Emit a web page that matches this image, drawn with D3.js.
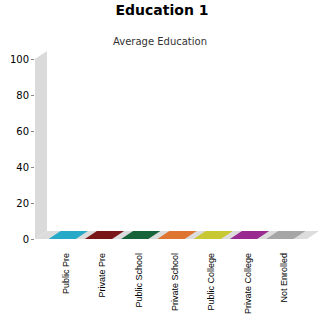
<!DOCTYPE html>
<html>
<head>
<meta charset="utf-8">
<script src="https://cdn.jsdelivr.net/npm/d3@7"></script>
<style>
  body { margin: 0; background: #fff; }
  svg { display: block; }
</style>
</head>
<body>
<svg class="chart"></svg>
<script>
var categories = ["Public Pre", "Private Pre", "Public School", "Private School", "Public College", "Private College", "Not Enrolled"];
var values = [0, 0, 0, 0, 0, 0, 0];
var colors = ["#27aac8", "#7b1618", "#17633a", "#de7530", "#c8c832", "#982a90", "#a6a6a6"];
var yTicks = [0, 20, 40, 60, 80, 100];

var width = 325, height = 325,
    dx = 12, dy = 8;   // 3d depth offset

var svg = d3.select(".chart")
    .attr("width", width)
    .attr("height", height);

var x = d3.scaleBand()
    .domain(categories)
    .range([35, 307])
    .paddingInner(0.25)
    .paddingOuter(0.375);

var y = d3.scaleLinear()
    .domain([0, 100])
    .range([239, 59]);

// titles
svg.append("text")
    .attr("x", 162).attr("y", 15)
    .attr("text-anchor", "middle")
    .style("font", "bold 14px 'DejaVu Sans'")
    .text("Education 1");

svg.append("text")
    .attr("x", 160).attr("y", 45)
    .attr("text-anchor", "middle")
    .style("font", "10px 'DejaVu Sans'")
    .attr("fill", "#333")
    .text("Average Education");

// left wall
var x0 = x.range()[0], x1 = x.range()[1];
svg.append("path")
    .attr("d", "M" + x0 + "," + y(0) + "L" + x0 + "," + y(100) + "L" + (x0 + dx) + "," + (y(100) - dy) + "L" + (x0 + dx) + "," + (y(0) - dy) + "Z")
    .attr("fill", "#dadada");

// floor
svg.append("path")
    .attr("d", "M" + x0 + "," + y(0) + "L" + x1 + "," + y(0) + "L" + (x1 + dx) + "," + (y(0) - dy) + "L" + (x0 + dx) + "," + (y(0) - dy) + "Z")
    .attr("fill", "#dcdcdc");

// bars (top face + front face)
var bars = svg.selectAll(".bar")
    .data(values)
  .enter().append("g")
    .attr("class", "bar");

bars.append("path")
    .attr("d", function(d, i) {
      var bx = x(categories[i]), bw = x.bandwidth(), by = y(d);
      return "M" + bx + "," + by + "L" + (bx + bw) + "," + by + "L" + (bx + bw + dx) + "," + (by - dy) + "L" + (bx + dx) + "," + (by - dy) + "Z";
    })
    .attr("fill", function(d, i) { return colors[i]; });

bars.append("rect")
    .attr("x", function(d, i) { return x(categories[i]); })
    .attr("y", function(d) { return y(d); })
    .attr("width", x.bandwidth())
    .attr("height", function(d) { return y(0) - y(d); })
    .attr("fill", function(d, i) { return colors[i]; });

// y axis
var yAxis = svg.append("g")
    .attr("transform", "translate(" + (x0 - 1) + ",0)")
    .call(d3.axisLeft(y).tickValues(yTicks).tickSize(3).tickPadding(2));
yAxis.select(".domain").remove();
yAxis.selectAll(".tick line").attr("stroke", "#888");
yAxis.selectAll("text")
    .style("font", "10px 'DejaVu Sans'")
    .attr("fill", "#000");

// category labels
svg.selectAll(".cat-label")
    .data(categories)
  .enter().append("text")
    .attr("class", "cat-label")
    .attr("transform", function(d) { return "translate(" + (x(d) + x.bandwidth() / 2 + 7) + ",253) rotate(-90)"; })
    .attr("text-anchor", "end")
    .style("font", "9px 'Liberation Sans'")
    .text(function(d) { return d; });
</script>
</body>
</html>
